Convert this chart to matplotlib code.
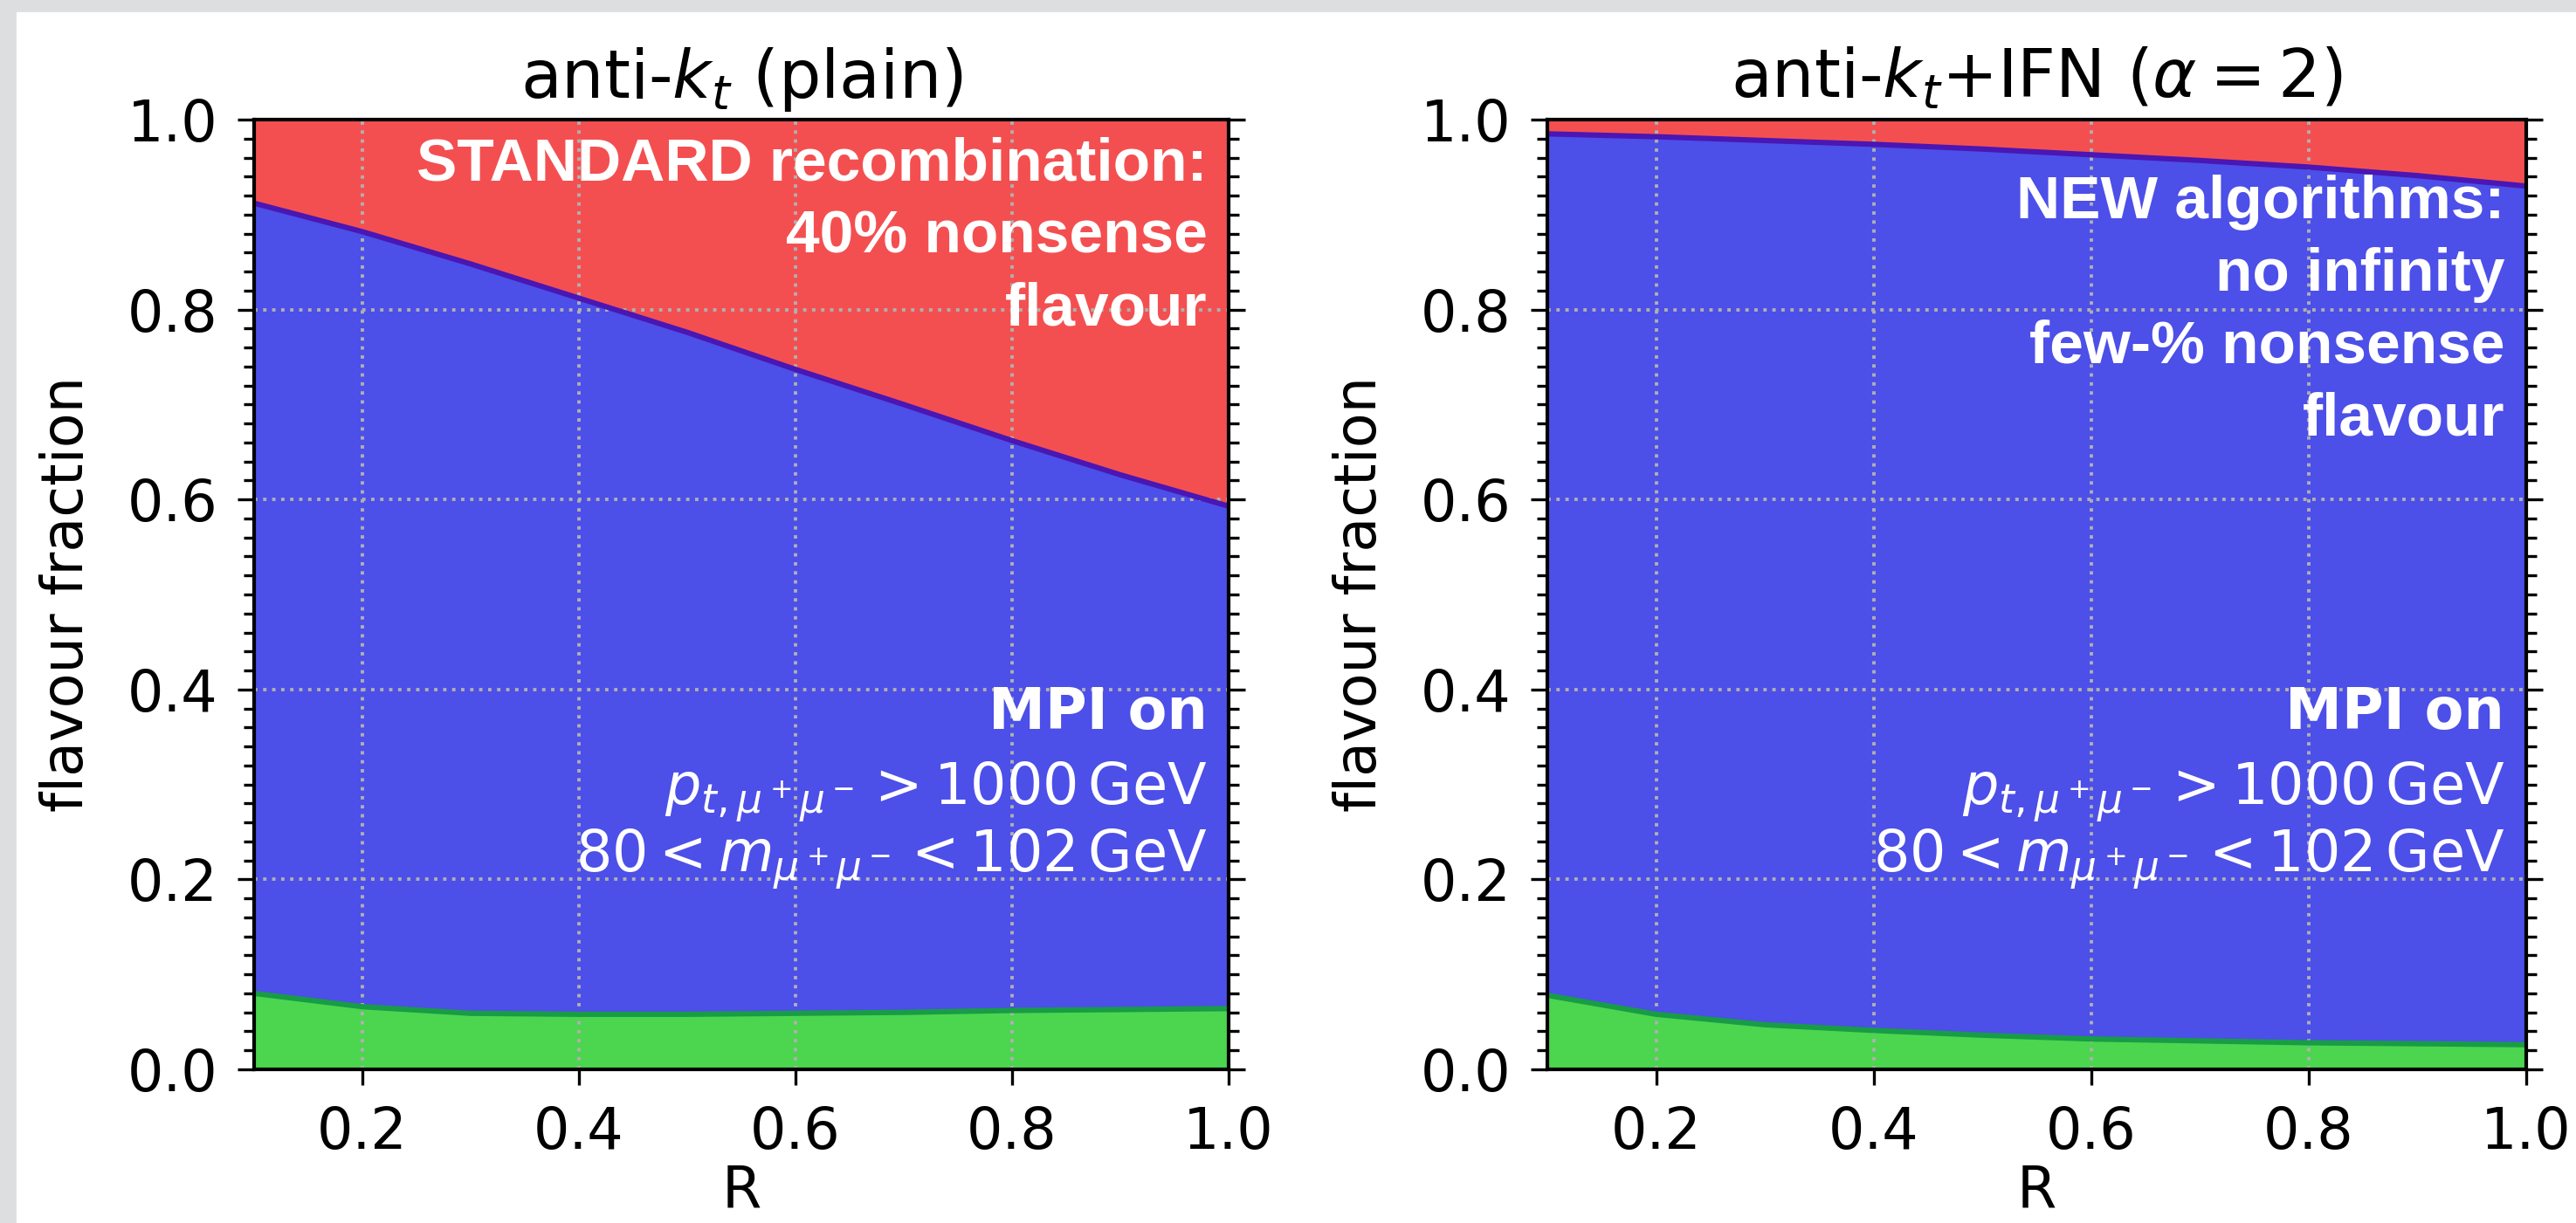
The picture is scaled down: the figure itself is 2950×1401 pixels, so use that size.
import matplotlib
matplotlib.use("Agg")
import matplotlib.pyplot as plt
from matplotlib.patches import Rectangle
from matplotlib.ticker import MultipleLocator

# jet radius values
R = [0.1, 0.2, 0.3, 0.4, 0.5, 0.6, 0.7, 0.8, 0.9, 1.0]

# anti-kt (plain): cumulative boundaries
plain_green = [0.080, 0.066, 0.059, 0.058, 0.058, 0.059, 0.060, 0.062, 0.063, 0.064]
plain_blue = [0.912, 0.882, 0.848, 0.812, 0.776, 0.737, 0.700, 0.662, 0.626, 0.593]

# anti-kt + IFN (alpha=2)
ifn_green = [0.078, 0.058, 0.047, 0.041, 0.036, 0.032, 0.030, 0.028, 0.027, 0.026]
ifn_blue = [0.985, 0.982, 0.978, 0.974, 0.969, 0.963, 0.957, 0.950, 0.941, 0.930]

titles = [r"anti-$k_t$ (plain)", r"anti-$k_t$+IFN ($\alpha = 2$)"]
top_texts = [
    ["STANDARD recombination:", "40% nonsense", "flavour"],
    ["NEW algorithms:", "no infinity", "few-% nonsense", "flavour"],
]
top_start = [0.936, 0.896]
cut_lines = ["MPI on",
             r"$p_{t,\mu^+\mu^-} > 1000\,$GeV",
             r"$80 < m_{\mu^+\mu^-} < 102\,$GeV"]

red = "#f44f50"
blue = "#4c4fe8"
green = "#4cd54f"
dark_green = "#189c46"
purple = "#4a16b4"

plt.rcParams["font.size"] = 23.5
plt.rcParams["mathtext.fontset"] = "dejavusans"

fig = plt.figure(figsize=(14.75, 7.005), dpi=200)
W, H = 2950, 1401
# grey frame on the left / top edges
fig.patches.append(Rectangle((0, 0), 17 / W, 1, transform=fig.transFigure,
                             color="#dddee0", zorder=0))
fig.patches.append(Rectangle((0, 1 - 12 / H), 1, 12 / H, transform=fig.transFigure,
                             color="#dddee0", zorder=0))

ax1 = fig.add_axes([291 / W, 1 - 1225 / H, 1116 / W, 1088 / H])
ax2 = fig.add_axes([1772 / W, 1 - 1225 / H, 1121 / W, 1088 / H])

for i, (ax, g, b) in enumerate([(ax1, plain_green, plain_blue), (ax2, ifn_green, ifn_blue)]):
    ax.fill_between(R, 0, g, color=green, lw=0)
    ax.fill_between(R, g, b, color=blue, lw=0)
    ax.fill_between(R, b, 1, color=red, lw=0)
    ax.plot(R, g, color=dark_green, lw=2.2)
    ax.plot(R, b, color=purple, lw=2.2)

    ax.set_xlim(0.1, 1.0)
    ax.set_ylim(0, 1)
    ax.set_xticks([0.2, 0.4, 0.6, 0.8, 1.0])
    ax.set_yticks([0.0, 0.2, 0.4, 0.6, 0.8, 1.0])
    ax.yaxis.set_minor_locator(MultipleLocator(0.02))
    ax.grid(True, which="major", ls=":", color="#b0b0b0", lw=1.4)
    ax.tick_params(axis="y", which="both", direction="out", left=True, right=True, width=1.2)
    ax.tick_params(axis="y", which="major", length=7, pad=8)
    ax.tick_params(axis="y", which="minor", length=4.3)
    ax.tick_params(axis="x", which="major", direction="out", length=6.6, width=1.2, pad=8)
    for s in ax.spines.values():
        s.set_linewidth(1.5)

    ax.set_title(titles[i], fontsize=27.5, pad=9)
    ax.set_xlabel("R", labelpad=1)
    ax.set_ylabel("flavour fraction", labelpad=13)

    y = top_start[i]
    for line in top_texts[i]:
        ax.text(0.978, y, line, transform=ax.transAxes, ha="right", va="baseline",
                color="white", fontsize=25, fontweight="bold",
                family=["Liberation Sans", "DejaVu Sans"], zorder=5)
        y -= 0.076

    ax.text(0.978, 0.358, cut_lines[0], transform=ax.transAxes, ha="right",
            va="baseline", color="white", fontweight="bold", zorder=5)
    ax.text(0.978, 0.279, cut_lines[1], transform=ax.transAxes, ha="right",
            va="baseline", color="white", zorder=5)
    ax.text(0.978, 0.208, cut_lines[2], transform=ax.transAxes, ha="right",
            va="baseline", color="white", zorder=5)

fig.savefig("out.png", dpi=200)
